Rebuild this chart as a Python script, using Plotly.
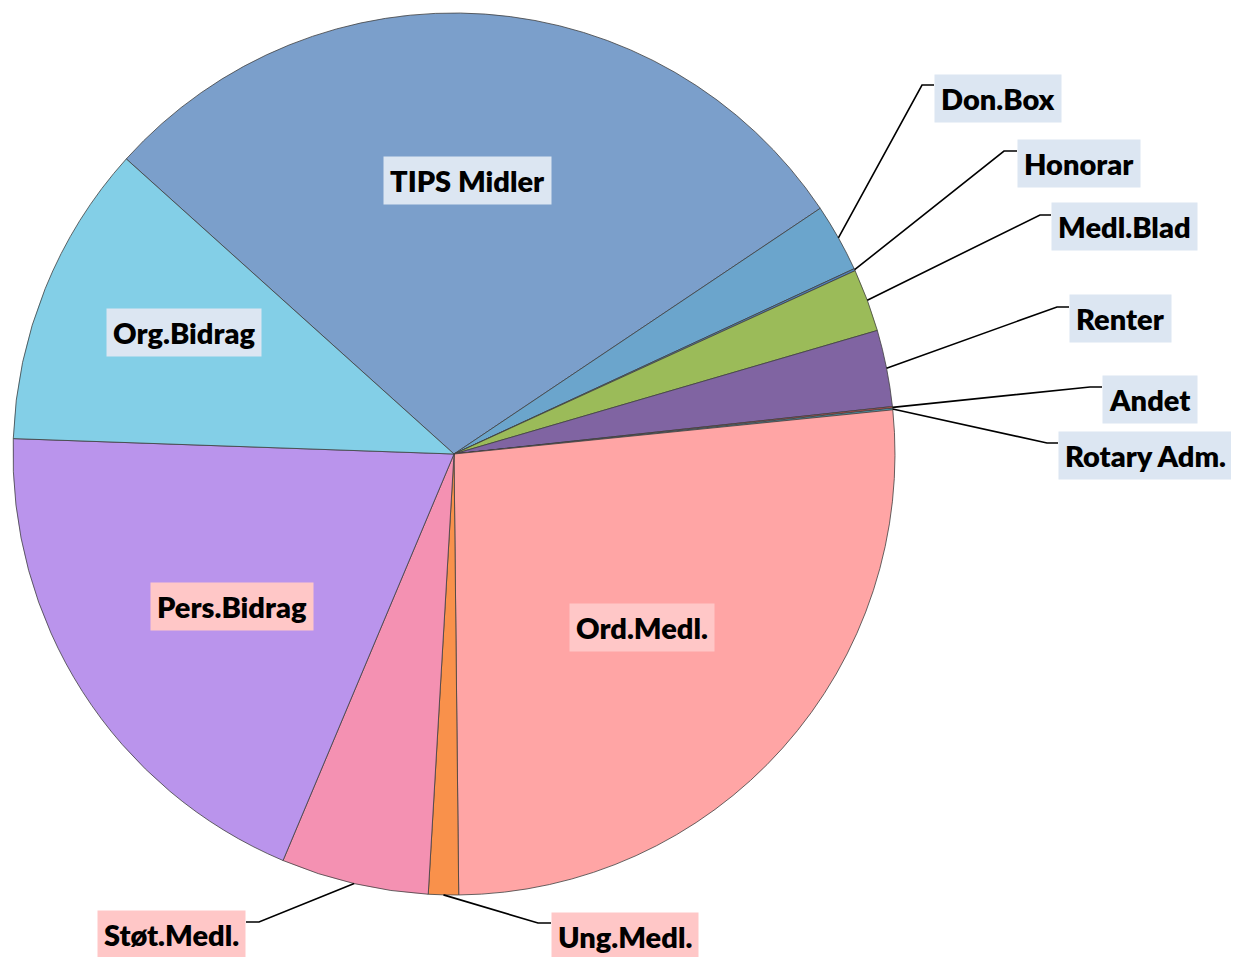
import math
import plotly.graph_objects as go

# ---------------- data ----------------
labels = ["TIPS Midler", "Don.Box", "Honorar", "Medl.Blad", "Renter", "Andet",
          "Rotary Adm.", "Ord.Medl.", "Ung.Medl.", "Støt.Medl.", "Pers.Bidrag", "Org.Bidrag"]
values = [28.9, 2.5, 0.08, 2.3, 2.8, 0.06, 0.06, 26.4, 1.1, 5.4, 19.2, 11.1]
colors = ["#7B9FCB", "#6BA5CC", "#4F81BD", "#9BBB59", "#8064A2", "#C0504D",
          "#4BACC6", "#FFA5A5", "#F9914B", "#F491B2", "#BA94EC", "#83CFE7"]
label_bg = ["#DCE6F2", "#DCE6F2", "#DCE6F2", "#DCE6F2", "#DCE6F2", "#DCE6F2",
            "#DCE6F2", "#FFC7C7", "#FFC7C7", "#FFC7C7", "#FFC7C7", "#DCE6F2"]

# ---------------- layout constants (pixels in the window) ----------------
W, H = 1239, 957
OFF = 8  # page body margin offset
CX, CY, R = 454, 454, 441
ROTATION = -48  # start of first slice, clockwise from 12 o'clock

# inside labels: centre positions
inside = {
    "TIPS Midler": (467, 180),
    "Org.Bidrag": (184, 333),
    "Pers.Bidrag": (232, 606),
    "Ord.Medl.": (642, 627),
}
# outside labels: (bend x, bend y, box edge x, box centre y, anchor)
outside = {
    "Don.Box": (922, 85, 934, 98, "left"),
    "Honorar": (1004, 151, 1017, 164, "left"),
    "Medl.Blad": (1040, 215, 1051, 227, "left"),
    "Renter": (1057, 307, 1069, 319, "left"),
    "Andet": (1090, 387, 1102, 399, "left"),
    "Rotary Adm.": (1047, 443, 1058, 455, "left"),
    "Støt.Medl.": (259, 922, 246, 934, "right"),
    "Ung.Medl.": (538, 923, 551, 936, "left"),
}


def px(x):
    return (x - OFF) / W


def py(y):
    return 1 - (y - OFF) / H


fig = go.Figure(go.Pie(
    labels=labels, values=values, sort=False, direction="clockwise",
    rotation=ROTATION,
    marker=dict(colors=colors, line=dict(color="#404040", width=0.8)),
    textinfo="none", hoverinfo="label+percent", showlegend=False,
    domain=dict(x=[px(CX - R), px(CX + R)], y=[py(CY + R), py(CY - R)]),
))

total = sum(values)
cum = 0.0
mid = {}
for lab, v in zip(labels, values):
    a = ROTATION + (cum + v / 2) / total * 360
    mid[lab] = a
    cum += v

font = dict(family="Lato, 'Open Sans', sans-serif", size=29, color="#000000", weight=800)
annotations = []
shapes = []
for lab, bg in zip(labels, label_bg):
    if lab in inside:
        x, y = inside[lab]
        annotations.append(dict(x=px(x), y=py(y), xref="paper", yref="paper",
                                text=lab, showarrow=False, font=font, bgcolor=bg,
                                borderpad=6, xanchor="center", yanchor="middle"))
    elif lab in outside:
        bx, by, ex, cy, anc = outside[lab]
        a = math.radians(mid[lab])
        sx = CX + R * math.sin(a)
        sy = CY - R * math.cos(a)
        shapes.append(dict(type="path", xref="paper", yref="paper",
                           path=f"M {px(sx)} {py(sy)} L {px(bx)} {py(by)} L {px(ex)} {py(by)}",
                           line=dict(color="#000000", width=1.6)))
        annotations.append(dict(x=px(ex), y=py(cy), xref="paper", yref="paper",
                                text=lab, showarrow=False, font=font, bgcolor=bg,
                                borderpad=6, xanchor=anc, yanchor="middle"))

fig.update_layout(width=W, height=H, margin=dict(l=0, r=0, t=0, b=0),
                  paper_bgcolor="white", plot_bgcolor="white",
                  annotations=annotations, shapes=shapes)
fig.write_html("out.html")
